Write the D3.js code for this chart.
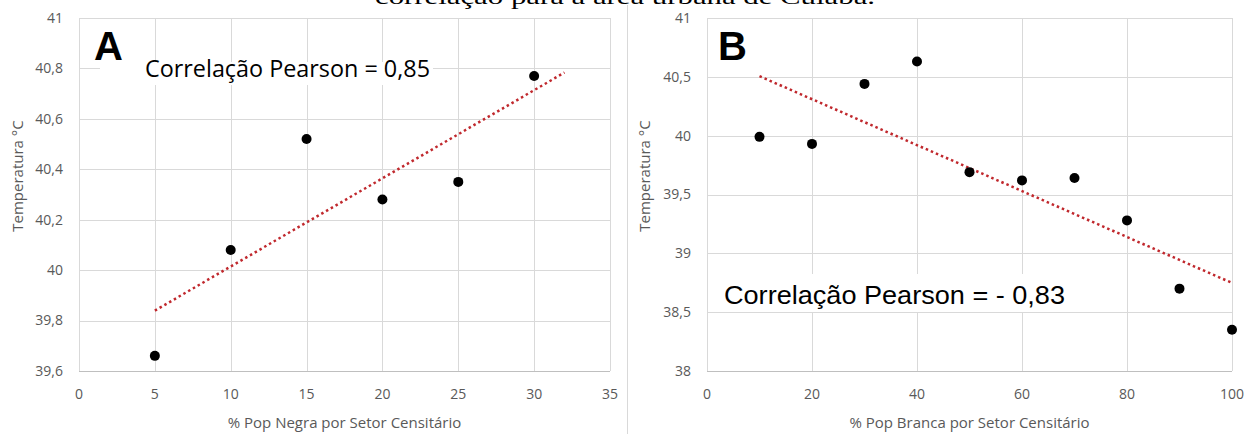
<!DOCTYPE html>
<html>
<head>
<meta charset="utf-8">
<script src="https://cdn.jsdelivr.net/npm/d3@7"></script>
<style>
    body { margin: 0; background: white; }
    svg { display: block; }
</style>
</head>
<body>
<svg id="chart" width="1247" height="434"></svg>
<script>
// 数据
const popNegra = [5, 10, 15, 20, 25, 30]
const tempNegra = [39.66, 40.08, 40.52, 40.28, 40.35, 40.77]
const popBranca = [10, 20, 30, 40, 50, 60, 70, 80, 90, 100]
const tempBranca = [39.99, 39.93, 40.44, 40.63, 39.69, 39.62, 39.64, 39.28, 38.7, 38.35]

const xTicksA = [0, 5, 10, 15, 20, 25, 30, 35]
const yTicksA = [39.6, 39.8, 40, 40.2, 40.4, 40.6, 40.8, 41]
const xTicksB = [0, 20, 40, 60, 80, 100]
const yTicksB = [38, 38.5, 39, 39.5, 40, 40.5, 41]

// 趋势线范围
const trendRangeA = [5, 32]
const trendRangeB = [10, 100]

const letters = ['A', 'B']
const pearsonLabels = ['Correlação Pearson = 0,85', 'Correlação Pearson = - 0,83']
const xTitles = ['% Pop Negra por Setor Censitário', '% Pop Branca por Setor Censitário']
const yTitle = 'Temperatura °C'
const caption = 'correlação para a área urbana de Cuiabá.'

const svg = d3.select('#chart')
const fmt = (d) => String(d).replace('.', ',')

// 线性回归
function regression(xs, ys) {
    const mx = d3.mean(xs)
    const my = d3.mean(ys)
    let sxy = 0
    let sxx = 0
    xs.forEach((x, i) => {
        sxy += (x - mx) * (ys[i] - my)
        sxx += (x - mx) * (x - mx)
    })
    const slope = sxy / sxx
    return (x) => my + slope * (x - mx)
}

const panels = [
    {
        left: 79, right: 610, xs: popNegra, ys: tempNegra, xTicks: xTicksA, yTicks: yTicksA,
        trend: trendRangeA, letter: letters[0], label: pearsonLabels[0], xTitle: xTitles[0],
        yTitleX: 23, letterX: 94, labelBox: [100, 62, 333, 23], labelX: 145, labelY: 77,
        labelSize: 24, labelLen: 285, labelFont: 'Open Sans'
    },
    {
        left: 707, right: 1232, xs: popBranca, ys: tempBranca, xTicks: xTicksB, yTicks: yTicksB,
        trend: trendRangeB, letter: letters[1], label: pearsonLabels[1], xTitle: xTitles[1],
        yTitleX: 650, letterX: 718, labelBox: [720, 274, 350, 38], labelX: 724, labelY: 304,
        labelSize: 26, labelLen: 341, labelFont: 'Liberation Sans'
    }
]

const plotTop = 18
const plotBottom = 371

// 顶部截断的标题
svg.append('text')
    .text(caption)
    .attr('x', 375)
    .attr('y', 4)
    .attr('font-family', 'Liberation Serif')
    .attr('font-size', '22px')
    .attr('textLength', 500)
    .attr('lengthAdjust', 'spacingAndGlyphs')
    .attr('fill', 'black')

// 分隔线
svg.append('line')
    .attr('x1', 627.5).attr('x2', 627.5)
    .attr('y1', 5).attr('y2', 434)
    .attr('stroke', '#d9d9d9')
    .attr('stroke-width', 1)

panels.forEach((p) => {
    const x = d3.scaleLinear().domain(d3.extent(p.xTicks)).range([p.left, p.right])
    const y = d3.scaleLinear().domain(d3.extent(p.yTicks)).range([plotBottom, plotTop])
    const g = svg.append('g')

    // 网格线
    g.selectAll('.hgrid')
        .data(p.yTicks)
        .enter()
        .append('line')
        .attr('x1', p.left).attr('x2', p.right)
        .attr('y1', (d) => Math.round(y(d)) + 0.5)
        .attr('y2', (d) => Math.round(y(d)) + 0.5)
        .attr('stroke', (d, i) => (i === 0 ? '#bfbfbf' : '#d9d9d9'))
        .attr('stroke-width', 1)

    g.selectAll('.vgrid')
        .data(p.xTicks)
        .enter()
        .append('line')
        .attr('x1', (d) => Math.round(x(d)) + 0.5)
        .attr('x2', (d) => Math.round(x(d)) + 0.5)
        .attr('y1', plotTop).attr('y2', plotBottom)
        .attr('stroke', '#d9d9d9')
        .attr('stroke-width', 1)

    // 刻度文字
    g.selectAll('.ytick')
        .data(p.yTicks)
        .enter()
        .append('text')
        .text(fmt)
        .attr('x', p.left - 16)
        .attr('y', (d) => y(d))
        .attr('dy', '0.35em')
        .attr('text-anchor', 'end')
        .attr('font-family', 'Open Sans')
        .attr('font-size', '14px')
        .attr('fill', '#595959')

    g.selectAll('.xtick')
        .data(p.xTicks)
        .enter()
        .append('text')
        .text(fmt)
        .attr('x', (d) => x(d))
        .attr('y', 394)
        .attr('dy', '0.35em')
        .attr('text-anchor', 'middle')
        .attr('font-family', 'Open Sans')
        .attr('font-size', '14px')
        .attr('fill', '#595959')

    // 轴标题
    g.append('text')
        .text(p.xTitle)
        .attr('x', (p.left + p.right) / 2)
        .attr('y', 428)
        .attr('text-anchor', 'middle')
        .attr('font-family', 'Open Sans')
        .attr('font-size', '15px')
        .attr('fill', '#595959')

    g.append('text')
        .text(yTitle)
        .attr('transform', `translate(${p.yTitleX}, 176) rotate(-90)`)
        .attr('text-anchor', 'middle')
        .attr('font-family', 'Open Sans')
        .attr('font-size', '15px')
        .attr('fill', '#595959')

    // 相关系数文字（白底遮住网格线）
    g.append('rect')
        .attr('x', p.labelBox[0]).attr('y', p.labelBox[1])
        .attr('width', p.labelBox[2]).attr('height', p.labelBox[3])
        .attr('fill', 'white')

    g.append('text')
        .text(p.label)
        .attr('x', p.labelX)
        .attr('y', p.labelY)
        .attr('font-family', p.labelFont)
        .attr('font-size', p.labelSize + 'px')
        .attr('textLength', p.labelLen)
        .attr('lengthAdjust', 'spacingAndGlyphs')
        .attr('fill', 'black')

    g.append('text')
        .text(p.letter)
        .attr('x', p.letterX)
        .attr('y', 60)
        .attr('font-family', 'Liberation Sans')
        .attr('font-weight', 'bold')
        .attr('font-size', '40px')
        .attr('fill', 'black')

    // 趋势线
    const fit = regression(p.xs, p.ys)
    g.append('line')
        .attr('x1', x(p.trend[0])).attr('y1', y(fit(p.trend[0])))
        .attr('x2', x(p.trend[1])).attr('y2', y(fit(p.trend[1])))
        .attr('stroke', '#c0282d')
        .attr('stroke-width', 2.5)
        .attr('stroke-dasharray', '2.5 3')

    // 散点
    g.selectAll('.dot')
        .data(p.xs)
        .enter()
        .append('circle')
        .attr('cx', (d) => x(d))
        .attr('cy', (d, i) => y(p.ys[i]))
        .attr('r', 5)
        .attr('fill', 'black')
})
</script>
</body>
</html>
